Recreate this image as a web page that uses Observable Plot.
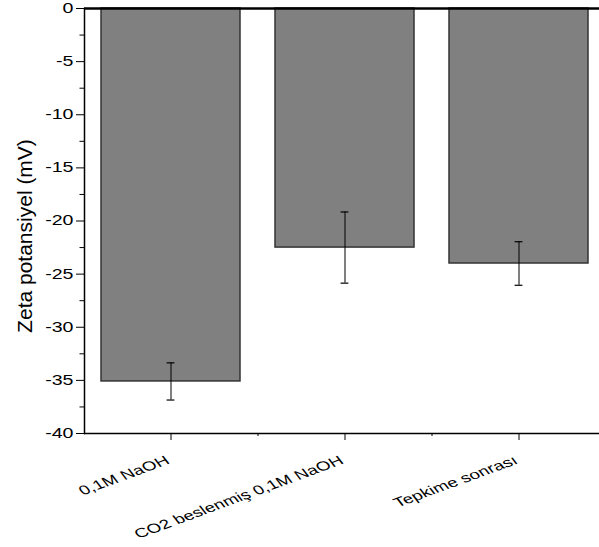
<!DOCTYPE html>
<html><head><meta charset="utf-8">
<script src="https://cdn.jsdelivr.net/npm/d3@7"></script>
<script src="https://cdn.jsdelivr.net/npm/@observablehq/plot@0.6"></script>
<style>body{margin:0;background:#fff;} svg{display:block;}</style>
</head><body><div id="chart"></div>
<script>
const categories = ["0,1M NaOH", "CO2 beslenmiş 0,1M NaOH", "Tepkime sonrası"];
const values = [-35.1, -22.5, -24.0];
const errors = [1.75, 3.35, 2.05];
const yTicks = [0, -5, -10, -15, -20, -25, -30, -35, -40];
const yMinorTicks = [-2.5, -7.5, -12.5, -17.5, -22.5, -27.5, -32.5, -37.5];
const yLabel = "Zeta potansiyel (mV)";

const data = categories.map((c, i) => ({c, v: values[i], lo: values[i] - errors[i], hi: values[i] + errors[i]}));
const font = "Liberation Sans, Arial, sans-serif";

const chart = Plot.plot({
  width: 599, height: 547,
  marginTop: 8, marginBottom: 114, marginLeft: 84, marginRight: 0,
  style: {fontFamily: font, fontSize: "14px", color: "#000", background: "#fff"},
  x: {type: "band", domain: categories, range: [84, 606], paddingInner: 0.2, paddingOuter: 0.1},
  y: {domain: [-40, 0], label: null},
  marks: [
    Plot.barY(data, {x: "c", y1: 0, y2: "v", fill: "#808080", stroke: "#333", strokeWidth: 1.5}),
    Plot.ruleX(data, {x: "c", y1: "lo", y2: "hi", stroke: "#000", strokeWidth: 1}),
    Plot.tickY(data, {x: "c", y: "lo", stroke: "#000", strokeWidth: 1.2, insetLeft: 65.6, insetRight: 65.6}),
    Plot.tickY(data, {x: "c", y: "hi", stroke: "#000", strokeWidth: 1.2, insetLeft: 65.6, insetRight: 65.6}),
    Plot.axisY({ticks: yTicks, tickSize: 8, tickPadding: 3, tickFormat: d => String(d), label: null, fontSize: 14}),
    Plot.axisY({ticks: yMinorTicks, tickSize: 4.5, tickFormat: () => "", label: null}),
    Plot.axisX({tickSize: 7, tickFormat: () => "", label: null}),
    Plot.axisX({ticks: categories.slice(0, 2), tickSize: 3, dx: 87, tickFormat: () => "", label: null}),
    Plot.text(categories, {x: d => d, frameAnchor: "bottom", dy: 26, dx: -3, rotate: -28, textAnchor: "end", lineAnchor: "middle", fontSize: 13, fill: "#000"}),
    Plot.ruleY([-40], {stroke: "#000", strokeWidth: 1.5}),
    Plot.ruleY([0], {stroke: "#000", strokeWidth: 2.5}),
    Plot.frame({anchor: "left", stroke: "#000", strokeWidth: 1.5}),
    Plot.text([yLabel], {frameAnchor: "left", dx: -59, dy: 15, rotate: -90, fontSize: 21, fill: "#000", textAnchor: "middle"})
  ]
});
document.getElementById("chart").appendChild(chart);
// widen tick and category labels horizontally, as in the reference
d3.select(chart).selectAll('g[aria-label="y-axis tick label"] text').each(function() {
  const t = this.getAttribute("transform") || "";
  this.setAttribute("transform", t + " scale(1.4,1)");
});
d3.select(chart).selectAll("text").each(function() {
  if (!categories.includes(this.textContent)) return;
  const t = this.getAttribute("transform") || "";
  this.setAttribute("transform", t.replace(/rotate\(([^)]*)\)/, "scale(1.45,1) rotate($1)"));
});
</script></body></html>
